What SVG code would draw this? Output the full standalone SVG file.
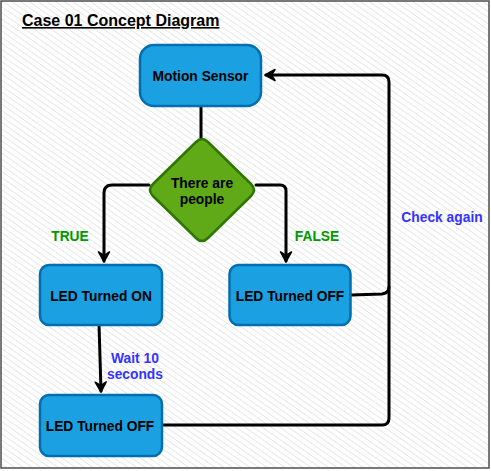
<svg xmlns="http://www.w3.org/2000/svg" width="491" height="471" viewBox="0 0 491 471">
  <defs>
    <pattern id="hatch" patternUnits="userSpaceOnUse" width="5" height="5" patternTransform="rotate(-55)">
      <rect width="5" height="5" fill="#ffffff"/>
      <line x1="0" y1="0" x2="0" y2="5" stroke="#e3e3e3" stroke-width="1.7"/>
    </pattern>
    <marker id="arr" markerWidth="14" markerHeight="14" refX="10" refY="7" orient="auto" markerUnits="userSpaceOnUse">
      <path d="M1,1.5 L11,7 L1,12.5 L4.5,7 Z" fill="#000" stroke="#000" stroke-width="1.5" stroke-linejoin="round"/>
    </marker>
    <style>
      .box { fill: #1ba1e2; stroke: #006eaf; stroke-width: 2.5; }
      .dia { fill: #60a917; stroke: #2d7600; stroke-width: 2.5; stroke-linejoin: round; }
      .lbl { font-family: "Liberation Sans", Arial, sans-serif; font-weight: bold; font-size: 13.8px; fill: #000; text-anchor: middle; }
      .edge { fill: none; stroke: #000; stroke-width: 3; stroke-linecap: round; stroke-linejoin: round; }
      .elbl { font-family: "Liberation Sans", Arial, sans-serif; font-weight: bold; font-size: 13.8px; text-anchor: middle; }
    </style>
  </defs>

  <rect x="1" y="1" width="488" height="467" fill="url(#hatch)" stroke="#4d4d4d" stroke-width="1.5"/>

  <g id="title">
    <text x="22" y="26" font-family="Liberation Sans, Arial, sans-serif" font-weight="bold" font-size="16" text-decoration="underline" fill="#000">Case 01 Concept Diagram</text>
  </g>

  <g id="connectors">
    <path class="edge" d="M201,106 L201,138"/>
    <path class="edge" d="M149,185 L112,185 Q104,185 104,193 L104,261" marker-end="url(#arr)"/>
    <path class="edge" d="M256,185 L280,185 Q286,185 286,191 L286,261" marker-end="url(#arr)"/>
    <path class="edge" d="M99,324 L101,391" marker-end="url(#arr)"/>
    <path class="edge" d="M161,425 L382,425 Q389,425 389,418 L389,82 Q389,75 382,75 L266,75" marker-end="url(#arr)"/>
    <path class="edge" d="M351,295 L382,294 Q389,293 389,287"/>
    <text class="elbl" x="70" y="241" fill="#009900">TRUE</text>
    <text class="elbl" x="317" y="241" fill="#009900">FALSE</text>
    <text class="elbl" x="442" y="222" fill="#3333ff">Check again</text>
    <text class="elbl" x="135" y="363" fill="#3333ff">Wait 10</text>
    <text class="elbl" x="135" y="379" fill="#3333ff">seconds</text>
  </g>

  <g id="motion-sensor">
    <rect class="box" x="140" y="45" width="121" height="61" rx="14"/>
    <text class="lbl" x="200.5" y="81">Motion Sensor</text>
  </g>

  <g id="decision">
    <path class="dia" d="M196,142 Q202,136 208,142 L251,184 Q257,190 251,196 L208,238 Q202,244 196,238 L153,196 Q147,190 153,184 Z"/>
    <text class="lbl" x="202" y="188">There are</text>
    <text class="lbl" x="202" y="204">people</text>
  </g>

  <g id="led-on">
    <rect class="box" x="40" y="265" width="122" height="60" rx="9"/>
    <text class="lbl" x="101" y="301">LED Turned ON</text>
  </g>

  <g id="led-off-right">
    <rect class="box" x="229.5" y="265" width="121" height="60" rx="9"/>
    <text class="lbl" x="290" y="301">LED Turned OFF</text>
  </g>

  <g id="led-off-bottom">
    <rect class="box" x="40" y="395" width="122" height="61" rx="9"/>
    <text class="lbl" x="100" y="431">LED Turned OFF</text>
  </g>
</svg>
